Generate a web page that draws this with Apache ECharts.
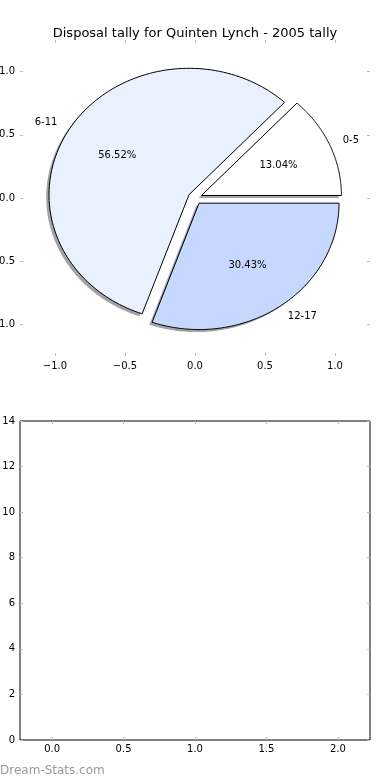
<!DOCTYPE html>
<html>
<head>
<meta charset="utf-8">
<script src="https://cdn.jsdelivr.net/npm/echarts@6/dist/echarts.min.js"></script>
<style>
html,body{margin:0;padding:0;background:#fff;}
#main{width:390px;height:780px;}
</style>
</head>
<body>
<div id="main"></div>
<script>
// ---- data ----
const categories = ['0-5', '6-11', '12-17'];
const disposals = [3, 13, 7];
const pieXTicks = [-1.0, -0.5, 0.0, 0.5, 1.0];
const pieYTicks = [-1.0, -0.5, 0.0, 0.5, 1.0];
const barXTicks = [0.0, 0.5, 1.0, 1.5, 2.0];
const barYTicks = [0, 2, 4, 6, 8, 10, 12, 14];

// ---- style ----
const sliceColors = ['#ffffff', '#eaf1fe', '#c6d8fe'];
const FONT = '"DejaVu Sans", sans-serif';
const tickColor = '#bbbbbb';
const EXPLODE = 0.05, LABEL_DIST = 1.1, PCT_DIST = 0.6;

const total = disposals.reduce((a, b) => a + b, 0);
const fmt1 = v => (v < 0 ? '\u2212' : '') + Math.abs(v).toFixed(1);

function sliceGeom(i) {
  let before = 0;
  for (let k = 0; k < i; k++) before += disposals[k];
  const a0 = before / total * 2 * Math.PI;
  const a1 = (before + disposals[i]) / total * 2 * Math.PI;
  const mid = (a0 + a1) / 2;
  return { a0, a1, mid, dx: EXPLODE * Math.cos(mid), dy: EXPLODE * Math.sin(mid) };
}

function wedgePoints(api, i, ox, oy) {
  const g = sliceGeom(i);
  const pts = [api.coord([g.dx + ox, g.dy + oy])];
  const N = 120;
  for (let k = 0; k <= N; k++) {
    const a = g.a0 + (g.a1 - g.a0) * k / N;
    pts.push(api.coord([g.dx + ox + Math.cos(a), g.dy + oy + Math.sin(a)]));
  }
  return pts;
}

function makeAxis(gridIndex, position, min, max, ticks, showLabel, margin, formatter) {
  const ax = {
    type: 'value',
    gridIndex: gridIndex,
    position: position,
    min: min,
    max: max,
    axisLine: { show: false, onZero: false },
    splitLine: { show: false },
    axisTick: { show: true, inside: true, length: 3, lineStyle: { color: tickColor, width: 1 }, customValues: ticks },
    axisLabel: { show: showLabel, color: '#000', fontSize: 10, fontFamily: FONT, margin: margin, customValues: ticks }
  };
  if (formatter) ax.axisLabel.formatter = formatter;
  return ax;
}

const chart = echarts.init(document.getElementById('main'), null, { renderer: 'canvas' });

const option = {
  animation: false,
  backgroundColor: '#fff',
  title: {
    text: 'Disposal tally for Quinten Lynch - 2005 tally',
    left: 'center',
    top: 22,
    textStyle: { fontSize: 13, fontWeight: 'normal', color: '#000', fontFamily: FONT }
  },
  grid: [
    { left: 20, top: 40, width: 350, height: 316, containLabel: false, outerBoundsMode: 'none' },
    { left: 20, top: 421, width: 350, height: 319, containLabel: false, outerBoundsMode: 'none',
      show: true, borderColor: '#000', borderWidth: 1, backgroundColor: 'transparent' }
  ],
  xAxis: [
    makeAxis(0, 'bottom', -1.25, 1.25, pieXTicks, true, 5, fmt1),
    makeAxis(0, 'top', -1.25, 1.25, pieXTicks, false, 5),
    makeAxis(1, 'bottom', -0.225, 2.225, barXTicks, true, 4, fmt1),
    makeAxis(1, 'top', -0.225, 2.225, barXTicks, false, 4)
  ],
  yAxis: [
    makeAxis(0, 'left', -1.25, 1.25, pieYTicks, true, 5, fmt1),
    makeAxis(0, 'right', -1.25, 1.25, pieYTicks, false, 5),
    makeAxis(1, 'left', 0, 14, barYTicks, true, 5),
    makeAxis(1, 'right', 0, 14, barYTicks, false, 5)
  ],
  series: [
    {
      type: 'custom', name: 'shadow', xAxisIndex: 0, yAxisIndex: 0, z: 1, silent: true,
      data: disposals.map((v, i) => [i, v]),
      renderItem: function (params, api) {
        const i = params.dataIndex;
        return {
          type: 'polygon',
          shape: { points: wedgePoints(api, i, -0.02, -0.02) },
          style: { fill: 'rgba(70,72,76,0.5)', stroke: 'none' }
        };
      }
    },
    {
      type: 'custom', name: 'wedges', xAxisIndex: 0, yAxisIndex: 0, z: 2, silent: true,
      data: disposals.map((v, i) => [i, v]),
      renderItem: function (params, api) {
        const i = params.dataIndex;
        const g = sliceGeom(i);
        const lp = api.coord([g.dx + LABEL_DIST * Math.cos(g.mid), g.dy + LABEL_DIST * Math.sin(g.mid)]);
        const pp = api.coord([g.dx + PCT_DIST * Math.cos(g.mid), g.dy + PCT_DIST * Math.sin(g.mid)]);
        const pct = (disposals[i] / total * 100).toFixed(2) + '%';
        return {
          type: 'group',
          children: [
            {
              type: 'polygon',
              shape: { points: wedgePoints(api, i, 0, 0) },
              style: { fill: sliceColors[i], stroke: '#000', lineWidth: 1, lineJoin: 'miter' }
            },
            {
              type: 'text', x: lp[0], y: lp[1],
              style: { text: categories[i], fill: '#000', font: '10px ' + FONT,
                align: Math.cos(g.mid) > 0 ? 'left' : 'right', verticalAlign: 'middle' }
            },
            {
              type: 'text', x: pp[0], y: pp[1],
              style: { text: pct, fill: '#000', font: '10px ' + FONT, align: 'center', verticalAlign: 'middle' }
            }
          ]
        };
      }
    }
  ],
  graphic: [
    {
      type: 'text', left: 0, bottom: 3,
      style: { text: 'Dream-Stats.com', fill: '#999999', font: '12px ' + FONT }
    }
  ]
};

chart.setOption(option);
</script>
</body>
</html>
